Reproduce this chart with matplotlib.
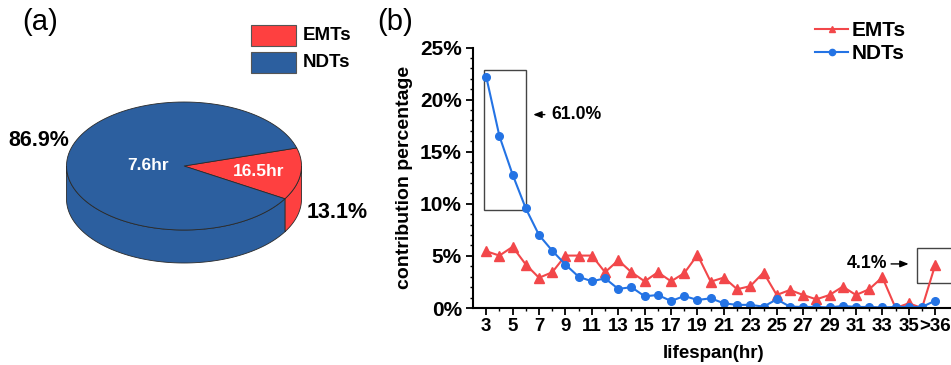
import numpy as np
import matplotlib
matplotlib.use("Agg")
import matplotlib.pyplot as plt
from matplotlib.patches import Polygon, Rectangle
from matplotlib.ticker import MultipleLocator, FixedLocator, FuncFormatter

plt.rcParams['font.family'] = ['Liberation Sans', 'DejaVu Sans']

# panel (a): share of transfers and mean lifespan
pie_names = ["EMTs", "NDTs"]
pie_share = [13.1, 86.9]
pie_life = ["16.5hr", "7.6hr"]

# panel (b): contribution (%) per lifespan bin, last bin is ">36"
lifespan = list(range(3, 38))
lifespan_labels = [str(v) for v in range(3, 36, 2)] + [">36"]
emts = [5.45, 5.03, 5.87, 4.17, 2.9, 3.43, 5.03, 5.03, 5.03, 3.43, 4.58, 3.43, 2.56, 3.43, 2.56,
        3.35, 5.1, 2.53, 2.92, 1.8, 2.1, 3.4, 1.25, 1.73, 1.25, 0.83, 1.25, 2.05, 1.25, 1.8,
        2.95, 0.0, 0.45, 0.0, 4.13]
ndts = [22.2, 16.5, 12.8, 9.55, 7.0, 5.5, 4.17, 3.0, 2.56, 2.85, 1.83, 2.0, 1.12, 1.25, 0.67,
        1.15, 0.77, 0.93, 0.45, 0.3, 0.3, 0.13, 0.83, 0.13, 0.1, 0.1, 0.05, 0.2, 0.1, 0.1,
        0.05, 0.1, 0.1, 0.1, 0.7]

RED_PIE = "#fe4040"
BLUE_PIE = "#2c5f9f"
RED_LINE = "#f2474a"
BLUE_LINE = "#2473e4"

fig = plt.figure(figsize=(9.51, 3.65), dpi=100)

# ---------- (a) 3D-looking pie, drawn in pixel units ----------
axp = fig.add_axes([0, 0, 380 / 951, 1])
axp.set_xlim(0, 380)
axp.set_ylim(365, 0)
axp.axis("off")

cx, cy, ra, rb, depth = 184, 166, 117.5, 64, 33
start = -30.8
spans = [v / sum(pie_share) * 360 for v in pie_share]
angs = [start, start + spans[0], start + spans[0] + spans[1]]
cols = [RED_PIE, BLUE_PIE]

def rim(t1, t2, dy=0):
    t = np.radians(np.linspace(t1, t2, 120))
    return np.column_stack([cx + ra * np.cos(t), cy - rb * np.sin(t) + dy])

# side walls (front half only)
side_parts = [(start, 0, cols[0]), (180, 360 + start, cols[1])]
for t1, t2, c in side_parts:
    top = rim(t1, t2)
    bot = rim(t1, t2, depth)[::-1]
    axp.add_patch(Polygon(np.vstack([top, bot]), closed=True, fc=c, ec="#2a2a2a", lw=0.6))

# top faces
for i in range(2):
    pts = np.vstack([[cx, cy], rim(angs[i], angs[i + 1])])
    axp.add_patch(Polygon(pts, closed=True, fc=cols[i], ec="#2a2a2a", lw=0.6))

axp.text(259, 171, pie_life[0], color="white", fontsize=12.5, fontweight="bold", ha="center", va="center")
axp.text(148, 165, pie_life[1], color="white", fontsize=12.5, fontweight="bold", ha="center", va="center")
axp.text(337, 212, f"{pie_share[0]}%", fontsize=15.5, fontweight="bold", ha="center", va="center")
axp.text(39, 141, f"{pie_share[1]}%", fontsize=15.5, fontweight="bold", ha="center", va="center")

for i, (nm, c) in enumerate(zip(pie_names, cols)):
    y0 = 25 + i * 26.5
    axp.add_patch(Rectangle((251, y0), 45, 21, fc=c, ec="#555555", lw=0.8))
    axp.text(303, y0 + 11, nm, fontsize=13.5, fontweight="bold", ha="left", va="center")

fig.text(40 / 951, 1 - 22 / 365, "(a)", fontsize=21, ha="center", va="center")
fig.text(395 / 951, 1 - 22 / 365, "(b)", fontsize=21, ha="center", va="center")

# ---------- (b) lifespan distribution ----------
ax = fig.add_axes([473 / 951, 57 / 365, 482 / 951, 260.5 / 365])
ax.plot(lifespan, emts, color=RED_LINE, marker="^", markersize=6.5, lw=1.5, label="EMTs")
ax.plot(lifespan, ndts, color=BLUE_LINE, marker="o", markersize=5.5, lw=1.5, label="NDTs")

ax.set_xlim(2, 38.5)
ax.set_ylim(0, 25)
ax.spines["top"].set_visible(False)
ax.spines["right"].set_visible(False)
for s in ["left", "bottom"]:
    ax.spines[s].set_linewidth(1.5)

ax.xaxis.set_major_locator(FixedLocator(list(range(3, 36, 2)) + [37]))
ax.set_xticklabels(lifespan_labels)
ax.xaxis.set_minor_locator(FixedLocator(list(range(4, 37, 2))))
ax.yaxis.set_major_locator(MultipleLocator(5))
ax.yaxis.set_minor_locator(MultipleLocator(1))
ax.yaxis.set_major_formatter(FuncFormatter(lambda v, p: f"{v:.0f}%"))
ax.tick_params(which="major", length=5, width=1.3)
ax.tick_params(which="minor", length=2.5, width=1.0)
ax.tick_params(axis="x", labelsize=13.5, pad=2.5)
ax.tick_params(axis="y", labelsize=15, pad=3)
for lab in ax.get_xticklabels() + ax.get_yticklabels():
    lab.set_fontweight("bold")

ax.set_xlabel("lifespan(hr)", fontsize=13.5, fontweight="bold", labelpad=7)
ax.set_ylabel("contribution percentage", fontsize=14, fontweight="bold", labelpad=5)

leg = ax.legend(loc="upper left", bbox_to_anchor=(815 / 951, 1 - 21 / 365), bbox_transform=fig.transFigure,
                frameon=False, prop={"weight": "bold", "size": 15}, handlelength=1.6,
                handletextpad=0.15, labelspacing=0.2, borderaxespad=0, borderpad=0)
for h in leg.legend_handles:
    h.set_markersize(4.5)

# highlighted boxes and notes
ax.add_patch(Rectangle((2.87, 9.42), 3.16, 13.38, fill=False, ec="#444444", lw=1.0))
ax.annotate("", xy=(6.35, 18.56), xytext=(7.65, 18.56),
            arrowprops=dict(arrowstyle="-|>,head_length=0.5,head_width=0.2", color="black", lw=1.0))
ax.text(7.95, 18.56, "61.0%", fontsize=12.7, fontweight="bold", ha="left", va="center")

ax.add_patch(Rectangle((35.65, 2.43), 3.5, 3.34, fill=False, ec="#444444", lw=1.0, clip_on=False))
ax.annotate("", xy=(35.2, 4.23), xytext=(33.45, 4.23),
            arrowprops=dict(arrowstyle="-|>,head_length=0.5,head_width=0.2", color="black", lw=1.0))
ax.text(33.35, 4.23, "4.1%", fontsize=12.7, fontweight="bold", ha="right", va="center")

fig.savefig("out.png", dpi=100)
